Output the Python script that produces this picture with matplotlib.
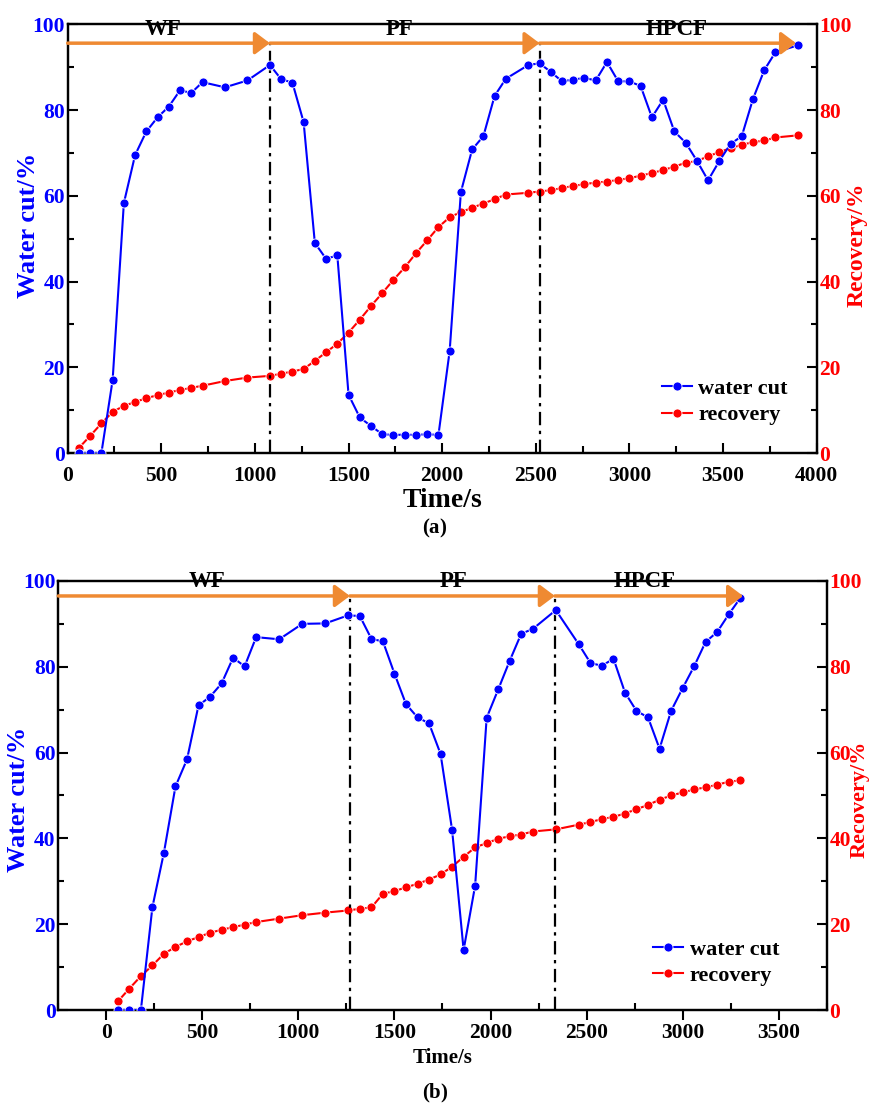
import matplotlib
matplotlib.use("Agg")
import matplotlib.pyplot as plt
from matplotlib.ticker import MultipleLocator

plt.rcParams["font.family"] = ["Liberation Serif", "DejaVu Serif"]
plt.rcParams["font.weight"] = "bold"
plt.rcParams["mathtext.fontset"] = "custom"
plt.rcParams["mathtext.rm"] = "Liberation Serif"
plt.rcParams["mathtext.bf"] = "Liberation Serif:bold"

# (a) water cut and recovery vs time
time_a = [60, 120, 180, 240, 300, 360, 420, 480, 540, 600, 660, 720, 840, 960,
          1080, 1140, 1200, 1260, 1320, 1380, 1440, 1500, 1560, 1620, 1680, 1740,
          1800, 1860, 1920, 1980, 2040, 2100, 2160, 2220, 2280, 2340,
          2460, 2520, 2580, 2640, 2700, 2760, 2820, 2880, 2940, 3000, 3060, 3120,
          3180, 3240, 3300, 3360, 3420, 3480, 3540, 3600, 3660, 3720, 3780, 3900]
water_a = [0, 0, 0, 17.0, 58.3, 69.5, 75.0, 78.3, 80.8, 84.6, 84.0, 86.5, 85.3, 86.9,
           90.5, 87.2, 86.4, 77.2, 49.0, 45.3, 46.1, 13.6, 8.3, 6.3, 4.4, 4.2,
           4.3, 4.2, 4.4, 4.2, 23.8, 60.9, 70.8, 73.9, 83.3, 87.3,
           90.5, 90.9, 88.9, 86.7, 87.1, 87.5, 86.9, 91.2, 86.7, 86.7, 85.6, 78.3,
           82.4, 75.0, 72.4, 68.2, 63.6, 68.1, 72.1, 73.9, 82.6, 89.3, 93.5, 95.1]
recov_a = [1.2, 4.0, 6.9, 9.6, 11.0, 11.9, 12.8, 13.5, 14.1, 14.7, 15.2, 15.7, 16.8, 17.6,
           18.0, 18.5, 19.0, 19.6, 21.5, 23.5, 25.5, 28.1, 31.1, 34.3, 37.3, 40.4,
           43.3, 46.6, 49.6, 52.7, 55.0, 56.2, 57.2, 58.2, 59.2, 60.3,
           60.7, 61.0, 61.3, 61.8, 62.3, 62.7, 63.1, 63.3, 63.7, 64.1, 64.7, 65.3,
           66.0, 66.8, 67.7, 68.1, 69.2, 70.2, 71.1, 71.9, 72.5, 72.9, 73.6, 74.1]
stage_ends_a = [1080, 2520, 3890]

# (b)
time_b = [60, 120, 180, 240, 300, 360, 420, 480, 540, 600, 660, 720, 780, 900, 1020, 1140,
          1260, 1320, 1380, 1440, 1500, 1560, 1620, 1680, 1740, 1800, 1860, 1920, 1980,
          2040, 2100, 2160, 2220, 2340, 2460, 2520, 2580, 2640, 2700, 2760, 2820, 2880,
          2940, 3000, 3060, 3120, 3180, 3240, 3300]
water_b = [0, 0, 0, 24.0, 36.7, 52.1, 58.4, 71.0, 73.0, 76.1, 82.1, 80.1, 86.9, 86.4, 90.0, 90.1,
           92.0, 91.8, 86.5, 85.9, 78.4, 71.3, 68.2, 66.8, 59.7, 42.0, 14.0, 29.0, 68.1,
           74.7, 81.4, 87.7, 88.8, 93.2, 85.2, 80.9, 80.2, 81.9, 74.0, 69.7, 68.2, 60.9,
           69.7, 75.0, 80.1, 85.8, 88.1, 92.2, 96.0]
recov_b = [2.0, 5.0, 7.9, 10.4, 13.1, 14.7, 16.0, 17.0, 18.0, 18.7, 19.3, 19.9, 20.5, 21.3, 22.1, 22.7,
           23.2, 23.6, 23.9, 27.1, 27.7, 28.6, 29.4, 30.4, 31.6, 33.4, 35.7, 37.9, 38.9,
           39.9, 40.5, 40.9, 41.6, 42.1, 43.2, 43.8, 44.5, 45.0, 45.8, 46.8, 47.8, 49.0,
           50.0, 50.7, 51.4, 51.9, 52.5, 53.2, 53.5]
stage_ends_b = [1268, 2335, 3315]

stages = ["WF", "PF", "HPCF"]
ORANGE = "#EF8A32"


def draw_panel(ax, t, wc, rec, ends, xlim, arrow_y, label_x, label_y, bottom_out,
               legend_xy, left_lab, right_lab, right_size):
    ax2 = ax.twinx()
    l1, = ax.plot(t, wc, "-o", color="blue", lw=1.5, ms=6.5, mec="white", mew=0.6,
                  label="water cut", zorder=3)
    l2, = ax2.plot(t, rec, "-o", color="red", lw=1.5, ms=6.5, mec="white", mew=0.6,
                   label="recovery", zorder=3)

    ax.set_xlim(*xlim)
    ax.set_ylim(0, 100)
    ax2.set_ylim(0, 100)
    ax.xaxis.set_major_locator(MultipleLocator(500))
    ax.xaxis.set_minor_locator(MultipleLocator(250))
    for a in (ax, ax2):
        a.yaxis.set_major_locator(MultipleLocator(20))
        a.yaxis.set_minor_locator(MultipleLocator(10))
        for s in a.spines.values():
            s.set_linewidth(1.6)

    xdir = "out" if bottom_out else "in"
    ax.tick_params(axis="x", which="major", direction=xdir, length=7, width=1.5,
                   labelsize=15.5, top=False, pad=2 if bottom_out else 9)
    ax.tick_params(axis="x", which="minor", direction="in", length=5, width=1.5, top=False)
    ax.tick_params(axis="y", which="both", direction="in", width=1.5, labelsize=15.5,
                   labelcolor="blue", pad=2)
    ax.tick_params(axis="y", which="major", length=7)
    ax.tick_params(axis="y", which="minor", length=4)
    ax2.tick_params(axis="y", which="both", direction="in", width=1.5, labelsize=15.5,
                    labelcolor="red", pad=2)
    ax2.tick_params(axis="y", which="major", length=7)
    ax2.tick_params(axis="y", which="minor", length=4)

    # stage arrows and boundaries
    starts = [xlim[0]] + ends[:-1]
    for x0, x1 in zip(starts, ends):
        ax.annotate("", xy=(x1, arrow_y), xytext=(x0, arrow_y),
                    arrowprops=dict(arrowstyle="-|>,head_length=0.6,head_width=0.45",
                                    color=ORANGE, lw=2.5, mutation_scale=15,
                                    shrinkA=0, shrinkB=0), zorder=4)
    for x in ends[:-1]:
        ax.plot([x, x], [0, arrow_y], color="black", lw=1.6, ls=(0, (6, 2.5, 1.5, 2.5)),
                zorder=2)
    for name, x in zip(stages, label_x):
        ax.text(x, label_y, name, ha="center", va="center", fontsize=16.5, fontweight="bold")

    ax.set_ylabel("Water cut/%", color="blue", fontsize=19, fontweight="bold")
    ax.yaxis.set_label_coords(*left_lab)
    ax2.set_ylabel("Recovery/%", color="red", fontsize=right_size, fontweight="bold")
    ax2.yaxis.set_label_coords(*right_lab)
    ax.set_zorder(ax2.get_zorder() + 1)
    ax.patch.set_visible(False)

    ax.legend([l1, l2], ["water cut", "recovery"], loc="center left",
              bbox_to_anchor=legend_xy, frameon=False, fontsize=16,
              handlelength=1.35, handletextpad=0.3, labelspacing=0.25,
              borderpad=0, borderaxespad=0)
    return ax2


fig = plt.figure(figsize=(8.7, 11.2), dpi=100)

ax_a = fig.add_axes([0.0778, 0.5955, 0.8609, 0.3828])
draw_panel(ax_a, time_a, water_a, recov_a, stage_ends_a, (0, 4000), 95.6,
           [510, 1770, 3250], 98.8, False, (0.793, 0.119),
           (-0.037, 0.53), (1.040, 0.485), 17)
ax_a.set_xlabel("Time/s", fontsize=20, fontweight="bold", labelpad=2)

ax_b = fig.add_axes([0.0670, 0.0982, 0.8832, 0.3831])
draw_panel(ax_b, time_b, water_b, recov_b, stage_ends_b, (-250, 3750), 96.5,
           [525, 1810, 2805], 99.8, True, (0.774, 0.11),
           (-0.037, 0.49), (1.030, 0.49), 16)
ax_b.set_xlabel("Time/s", fontsize=15, fontweight="bold", labelpad=4)

fig.text(0.5, 1 - 528 / 1120, r"($\mathbf{a}$)", ha="center", va="center", fontsize=15)
fig.text(0.5, 1 - 1093 / 1120, r"($\mathbf{b}$)", ha="center", va="center", fontsize=15)

fig.savefig("out.png", dpi=100)
